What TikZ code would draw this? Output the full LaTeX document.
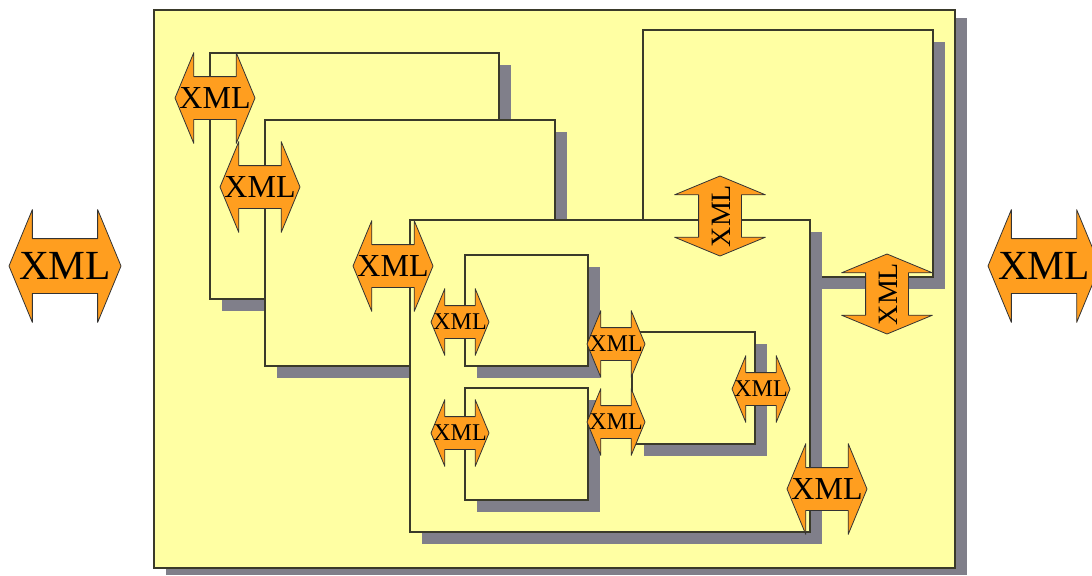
\documentclass[tikz,border=0pt]{standalone}
\usepackage{fontspec}
\setmainfont{Liberation Serif}
\usetikzlibrary{shapes.arrows}
\definecolor{paneyellow}{HTML}{FFFFA3}
\definecolor{paneshadow}{HTML}{807F8A}
\definecolor{xmlorange}{HTML}{FF9E1F}
\definecolor{paneline}{HTML}{3A3A2A}
\newcommand{\xmlword}{\makebox[0pt]{XML}}
\tikzset{
  xmlshape/.style={double arrow,double arrow tip angle=135,
    inner sep=0pt,fill=xmlorange,draw=black!80,line width=0.4pt,line join=round,text=black},
  xmlbig/.style={xmlshape,double arrow head extend=14.5pt,minimum height=56pt,text height=20.3pt,text depth=6.7pt,
    font=\fontsize{20.7}{24}\selectfont},
  xmlmid/.style={xmlshape,double arrow head extend=12pt,minimum height=40pt,text height=15.75pt,text depth=5.25pt,
    font=\fontsize{16}{19}\selectfont},
  xmlsmall/.style={xmlshape,double arrow head extend=8.5pt,minimum height=29pt,text height=11.95pt,text depth=4.05pt,
    font=\fontsize{12}{14}\selectfont},
  panefill/.style={fill=paneyellow,draw=paneline,line width=0.6pt},
  paneback/.style={fill=paneshadow}
}
\begin{document}
\begin{tikzpicture}[x=0.5pt,y=-0.5pt]
  \useasboundingbox (0,0) rectangle (1092,575);
  % outer pane
  \fill[paneback] (166,18) rectangle (967,575);
  \draw[panefill] (154,10) rectangle (955,568);
  % inner panes
  \foreach \xa/\ya/\xb/\yb in {210/53/499/299,265/120/555/366,643/30/933/277,410/220/810/532,
      465/255/588/366,465/388/588/500,632/332/755/444}{
    \fill[paneback] (\xa+12,\ya+12) rectangle (\xb+12,\yb+12);
    \draw[panefill] (\xa,\ya) rectangle (\xb,\yb);
  }
  % ports
  \node[xmlbig] (xmlin) at (65,266) {\xmlword};
  \node[xmlbig] (xmlout) at (1044,266) {\xmlword};
  \node[xmlmid] (xmla) at (215,98) {\xmlword};
  \node[xmlmid] (xmlb) at (260,187) {\xmlword};
  \node[xmlmid] (xmld) at (393,266) {\xmlword};
  \node[xmlmid] (xmlo) at (827,489) {\xmlword};
  \node[xmlmid,rotate=90,font=\fontsize{14}{17}\selectfont] (xmlc) at (720,216) {\xmlword};
  \node[xmlmid,rotate=90,font=\fontsize{14}{17}\selectfont] (xmlr) at (887,294) {\xmlword};
  \node[xmlsmall] (xmle) at (460,322) {\xmlword};
  \node[xmlsmall] (xmlf) at (460,433) {\xmlword};
  \node[xmlsmall] (xmlg) at (616,344) {\xmlword};
  \node[xmlsmall] (xmlh) at (616,422) {\xmlword};
  \node[xmlsmall] (xmli) at (761,389) {\xmlword};
\end{tikzpicture}
\end{document}
